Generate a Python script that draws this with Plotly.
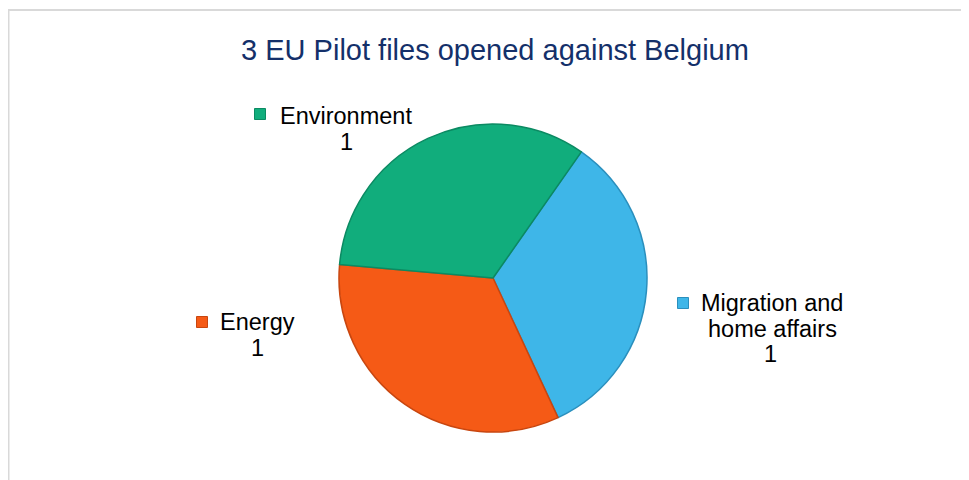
import plotly.graph_objects as go

# Data
categories = ["Migration and home affairs", "Energy", "Environment"]
values = [1, 1, 1]
label_lines = [["Migration and", "home affairs"], ["Energy"], ["Environment"]]
colors = ["#3EB6E8", "#F55A16", "#11AD7C"]
edge_colors = ["#2A8FBD", "#C8460F", "#0B8A62"]

# page body has an 8px margin, so the figure is sized to fit the window
W, H = 961, 472
OFF = 8


def fx(x):
    return (x - OFF) / W


def fy(y):
    return 1 - (y - OFF) / H


fig = go.Figure()

fig.add_trace(go.Pie(
    labels=categories,
    values=values,
    sort=False,
    direction="clockwise",
    rotation=35,
    textinfo="none",
    hoverinfo="label+value",
    marker=dict(colors=colors, line=dict(color=edge_colors, width=1.5)),
    domain=dict(x=[fx(339), fx(647)], y=[fy(432), fy(124)]),
    showlegend=False,
))

# label layout in screen pixels: text centre x, first line y, marker centre
label_pos = [
    dict(tx=772, ty=303, vx=770, mx=683, my=303),
    dict(tx=258, ty=322, vx=258, mx=202, my=322),
    dict(tx=346, ty=116, vx=346, mx=260, my=114),
]
LINE = 25.5
font = dict(family="Liberation Sans, Arial", size=23.5, color="#000000")

annotations = []
shapes = []
for lines, val, col, edge, p in zip(label_lines, values, colors, edge_colors, label_pos):
    for i, ln in enumerate(lines):
        annotations.append(dict(
            x=fx(p["tx"]), y=fy(p["ty"] + i * LINE), xref="paper", yref="paper",
            text=ln, showarrow=False, xanchor="center", yanchor="middle", font=font,
        ))
    annotations.append(dict(
        x=fx(p["vx"]), y=fy(p["ty"] + len(lines) * LINE), xref="paper", yref="paper",
        text=str(val), showarrow=False, xanchor="center", yanchor="middle", font=font,
    ))
    shapes.append(dict(
        type="rect", xref="paper", yref="paper",
        x0=fx(p["mx"] - 5.5), x1=fx(p["mx"] + 5.5),
        y0=fy(p["my"] + 5.5), y1=fy(p["my"] - 5.5),
        fillcolor=col, line=dict(color=edge, width=1),
    ))

# chart frame (top and left edges)
shapes.append(dict(type="line", xref="paper", yref="paper",
                   x0=0, x1=1, y0=1 - 2 / H, y1=1 - 2 / H,
                   line=dict(color="#D9D9D9", width=2)))
shapes.append(dict(type="line", xref="paper", yref="paper",
                   x0=0.5 / W, x1=0.5 / W, y0=1 - 1 / H, y1=0,
                   line=dict(color="#D9D9D9", width=2)))

fig.update_layout(
    width=W, height=H,
    margin=dict(l=0, r=0, t=0, b=0),
    paper_bgcolor="white",
    plot_bgcolor="white",
    title=dict(
        text="3 EU Pilot files opened against Belgium",
        x=fx(495), y=fy(50), xref="paper", yref="paper",
        xanchor="center", yanchor="middle",
        font=dict(family="Liberation Sans, Arial", size=29, color="#14306A"),
    ),
    annotations=annotations,
    shapes=shapes,
)

fig.write_html("out.html")
